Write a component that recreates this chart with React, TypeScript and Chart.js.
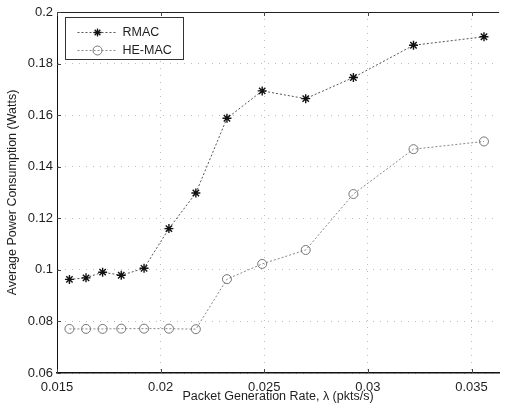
import React, { useEffect, useRef } from "react";
import { Chart, registerables } from "chart.js";

Chart.register(...registerables);

const xValues = [0.0156, 0.0164, 0.0172, 0.0181, 0.0192, 0.0204, 0.0217, 0.0232, 0.0249, 0.027, 0.0293, 0.0322, 0.0356];
const rmacValues = [0.0963, 0.0969, 0.0991, 0.0979, 0.1006, 0.116, 0.1298, 0.1588, 0.1694, 0.1664, 0.1746, 0.1871, 0.1904];
const hemacValues = [0.0771, 0.0771, 0.0771, 0.0772, 0.0772, 0.0772, 0.077, 0.0964, 0.1023, 0.1077, 0.1294, 0.1468, 0.1498];
const xTicks = [0.015, 0.02, 0.025, 0.03, 0.035];
const yTicks = [0.06, 0.08, 0.1, 0.12, 0.14, 0.16, 0.18, 0.2];
const seriesLabels = ["RMAC", "HE-MAC"];
const xTitle = "Packet Generation Rate, \u03bb (pkts/s)";
const yTitle = "Average Power Consumption (Watts)";

const FONT = "'Liberation Sans', Arial, Helvetica, sans-serif";
const TEXT = "#1e1e1e";

function drawStar(ctx: CanvasRenderingContext2D, x: number, y: number, r: number) {
  ctx.beginPath();
  for (let i = 0; i < 4; i++) {
    const a = (i * Math.PI) / 4;
    ctx.moveTo(x - r * Math.cos(a), y - r * Math.sin(a));
    ctx.lineTo(x + r * Math.cos(a), y + r * Math.sin(a));
  }
  ctx.stroke();
}

const framePlugin = {
  id: "matlabFrame",
  afterDraw(chart: any) {
    const ctx = chart.ctx as CanvasRenderingContext2D;
    const { left, right, top, bottom } = chart.chartArea;
    ctx.save();
    ctx.setLineDash([]);
    // top frame line
    ctx.strokeStyle = "#222";
    ctx.lineWidth = 1;
    ctx.beginPath();
    ctx.moveTo(left, top + 0.5);
    ctx.lineTo(right, top + 0.5);
    ctx.stroke();
    // inner tick marks
    const xs = chart.scales.x;
    const ys = chart.scales.y;
    ctx.strokeStyle = "#444";
    ctx.beginPath();
    xTicks.forEach((t) => {
      const px = Math.round(xs.getPixelForValue(t)) + 0.5;
      ctx.moveTo(px, bottom);
      ctx.lineTo(px, bottom - 4);
      ctx.moveTo(px, top);
      ctx.lineTo(px, top + 4);
    });
    yTicks.forEach((t) => {
      const py = Math.round(ys.getPixelForValue(t)) + 0.5;
      ctx.moveTo(left, py);
      ctx.lineTo(left + 4, py);
    });
    ctx.stroke();

    // legend
    const bx = left + 8.5;
    const by = top + 5.5;
    const bw = 118;
    const bh = 42;
    ctx.fillStyle = "#fff";
    ctx.fillRect(bx, by, bw, bh);
    ctx.strokeStyle = "#333";
    ctx.strokeRect(bx, by, bw, bh);
    const rows = [by + 15, by + 33];
    const ds = chart.data.datasets;
    rows.forEach((ry, i) => {
      const d = ds[i];
      ctx.strokeStyle = d.borderColor;
      ctx.lineWidth = 1;
      ctx.setLineDash([2, 2]);
      ctx.beginPath();
      ctx.moveTo(bx + 12, ry);
      ctx.lineTo(bx + 52, ry);
      ctx.stroke();
      ctx.setLineDash([]);
      ctx.strokeStyle = d.pointBorderColor;
      if (i === 0) {
        ctx.lineWidth = 1.3;
        drawStar(ctx, bx + 32, ry, 4);
      } else {
        ctx.lineWidth = 1;
        ctx.beginPath();
        ctx.arc(bx + 32, ry, 4.5, 0, Math.PI * 2);
        ctx.stroke();
      }
      ctx.fillStyle = TEXT;
      ctx.font = `12.5px ${FONT}`;
      ctx.textBaseline = "middle";
      ctx.textAlign = "left";
      ctx.fillText(d.label, bx + 57, ry + 0.5);
    });
    ctx.restore();
  },
};

const bgPlugin = {
  id: "whiteBg",
  beforeDraw(chart: any) {
    const ctx = chart.ctx;
    ctx.save();
    ctx.fillStyle = "#fff";
    ctx.fillRect(0, 0, chart.width, chart.height);
    ctx.restore();
  },
};

export default function App() {
  const ref = useRef<HTMLCanvasElement | null>(null);
  useEffect(() => {
    if (!ref.current) return;
    const chart = new Chart(ref.current, {
      type: "line",
      data: {
        datasets: [
          {
            label: seriesLabels[0],
            data: xValues.map((x, i) => ({ x, y: rmacValues[i] })),
            borderColor: "#555",
            borderWidth: 1,
            borderDash: [2, 2],
            pointStyle: "star",
            pointRadius: 4.5,
            pointBorderColor: "#111",
            pointBorderWidth: 1.4,
            pointBackgroundColor: "#111",
            tension: 0,
            fill: false,
          },
          {
            label: seriesLabels[1],
            data: xValues.map((x, i) => ({ x, y: hemacValues[i] })),
            borderColor: "#888",
            borderWidth: 1,
            borderDash: [2, 2],
            pointStyle: "circle",
            pointRadius: 4.5,
            pointBorderColor: "#777",
            pointBorderWidth: 1,
            pointBackgroundColor: "rgba(255,255,255,0)",
            tension: 0,
            fill: false,
          },
        ],
      },
      options: {
        responsive: false,
        animation: false,
        layout: { padding: { top: 12, right: 0, left: 0, bottom: 0 } },
        plugins: { legend: { display: false }, tooltip: { enabled: false } },
        scales: {
          x: {
            type: "linear",
            min: 0.015,
            max: 0.03633,
            afterBuildTicks: (s: any) => {
              s.ticks = xTicks.map((v) => ({ value: v }));
            },
            afterFit: (s: any) => {
              s.height = 38;
            },
            ticks: {
              color: TEXT,
              font: { family: FONT, size: 13 },
              padding: 7,
              maxRotation: 0,
              autoSkip: false,
              callback: (v: any) => String(Number(v.toFixed(3))),
            },
            grid: {
              color: "#bdbdbd",
              lineWidth: 1,
              drawTicks: false,
            },
            border: { display: true, color: "#111", width: 1.5, dash: [1, 6] },
            title: {
              display: true,
              text: xTitle,
              color: TEXT,
              font: { family: FONT, size: 12.5 },
              padding: { top: 0, bottom: 7 },
            },
          },
          y: {
            type: "linear",
            min: 0.06,
            max: 0.2,
            afterBuildTicks: (s: any) => {
              s.ticks = yTicks.map((v) => ({ value: v }));
            },
            afterFit: (s: any) => {
              s.width = 57;
            },
            ticks: {
              color: TEXT,
              font: { family: FONT, size: 13 },
              padding: 4,
              autoSkip: false,
              callback: (v: any) => String(Number(v.toFixed(3))),
            },
            grid: {
              color: "#bdbdbd",
              lineWidth: 1,
              drawTicks: false,
            },
            border: { display: true, color: "#111", width: 1, dash: [1, 6] },
            title: {
              display: true,
              text: yTitle,
              color: TEXT,
              font: { family: FONT, size: 12.5 },
              padding: { top: 5, bottom: 0 },
            },
          },
        },
      },
      plugins: [bgPlugin, framePlugin],
    });
    return () => chart.destroy();
  }, []);
  return (
    <div style={{ position: "fixed", left: 0, top: 0, width: 505, height: 411 }}>
      <canvas ref={ref} width={505} height={411} style={{ display: "block" }} />
    </div>
  );
}
